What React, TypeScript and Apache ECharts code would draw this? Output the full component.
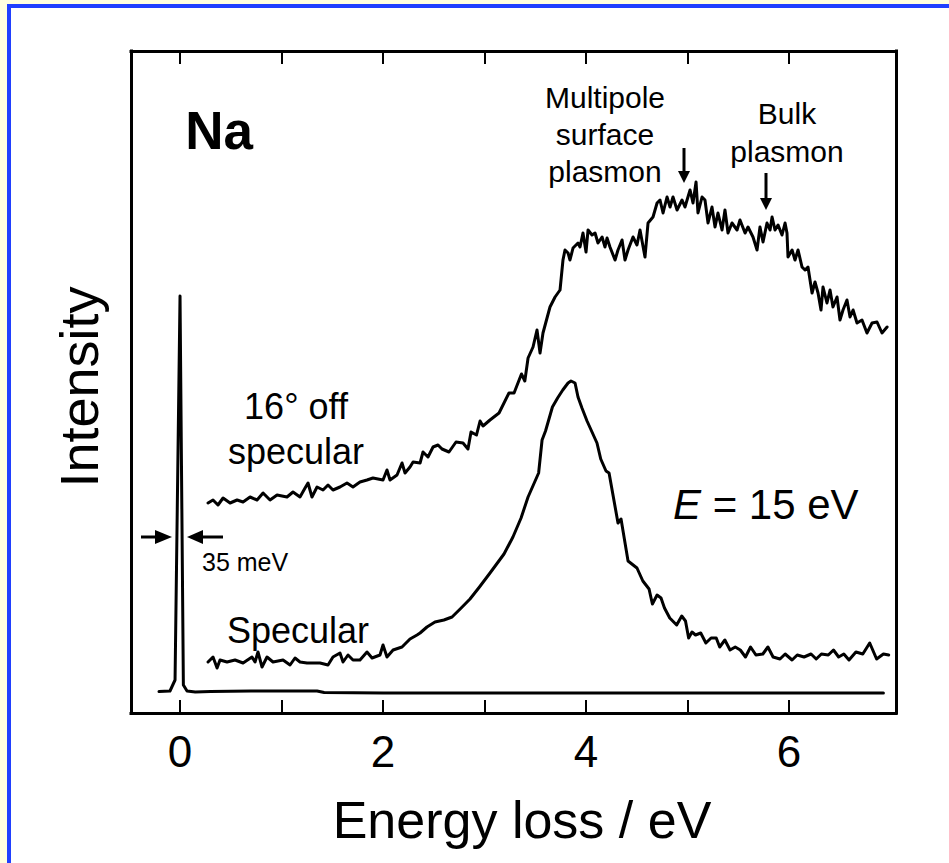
import React, { useEffect, useRef } from "react";
import * as echarts from "echarts";

const FONT = "'Liberation Sans', Arial, Helvetica, sans-serif";

// Axis ticks (energy loss / eV)
const xTicks = [0, 1, 2, 3, 4, 5, 6];
const xTickLabels = [0, 2, 4, 6];

// Elastic peak + baseline (specular, low gain)  [energy loss eV, intensity a.u.]
const elastic: number[][] = [
  [-0.207, 21.4], [-0.099, 22], [-0.049, 33], [0, 417], [0.033, 28], [0.069, 22],
  [0.15, 21], [0.3, 21.5], [0.7, 22], [1.0, 22], [1.35, 22], [1.42, 20.5], [2.0, 20],
  [4.0, 20], [6.93, 20],
];

// Specular spectrum (magnified)
const specular: number[][] = [
  [0.276, 51], [0.325, 56], [0.365, 45], [0.394, 53], [0.463, 51], [0.542, 53], [0.621, 50],
  [0.709, 56], [0.739, 51], [0.768, 61], [0.808, 46], [0.857, 56], [0.916, 51], [1.015, 53],
  [1.084, 48], [1.133, 55], [1.182, 51], [1.251, 50], [1.379, 50], [1.458, 48], [1.507, 56],
  [1.576, 60], [1.606, 51], [1.655, 58], [1.704, 53], [1.773, 53], [1.842, 61], [1.892, 55],
  [1.97, 58], [2.0, 68], [2.039, 56], [2.099, 63], [2.187, 66], [2.266, 74], [2.335, 78],
  [2.365, 80], [2.433, 86], [2.512, 91], [2.6, 93], [2.68, 96], [2.76, 104], [2.857, 114],
  [2.95, 126], [3.054, 140], [3.192, 159], [3.28, 176], [3.36, 195], [3.429, 216],
  [3.533, 240], [3.567, 273], [3.601, 282], [3.669, 306], [3.72, 315], [3.771, 323],
  [3.823, 330], [3.852, 332], [3.892, 330], [3.921, 316], [3.96, 305], [4.01, 292],
  [4.108, 270], [4.145, 254], [4.197, 242], [4.227, 240], [4.315, 190], [4.345, 194],
  [4.414, 152], [4.502, 145], [4.56, 132], [4.621, 124], [4.654, 109], [4.7, 118],
  [4.739, 115], [4.773, 105], [4.825, 95], [4.893, 88], [4.943, 97], [4.98, 92],
  [5.011, 75], [5.044, 81], [5.079, 78], [5.13, 80], [5.181, 70], [5.232, 75], [5.283, 75],
  [5.317, 66], [5.368, 73], [5.419, 63], [5.47, 66], [5.52, 63], [5.571, 56], [5.621, 66],
  [5.674, 58], [5.742, 59], [5.792, 66], [5.843, 56], [5.911, 54], [5.962, 59], [6.03, 53],
  [6.081, 58], [6.148, 56], [6.217, 59], [6.268, 54], [6.319, 59], [6.387, 58], [6.438, 63],
  [6.489, 56], [6.54, 59], [6.591, 53], [6.659, 61], [6.727, 59], [6.795, 70], [6.863, 54],
  [6.93, 59], [6.982, 58],
];

// 16 deg off-specular spectrum
const offSpecular: number[][] = [
  [0.276, 210], [0.325, 213], [0.374, 208], [0.424, 215], [0.493, 210], [0.562, 213],
  [0.621, 211], [0.69, 216], [0.759, 213], [0.818, 220], [0.887, 213], [0.956, 218],
  [1.054, 216], [1.113, 221], [1.182, 216], [1.232, 225], [1.261, 230], [1.3, 216],
  [1.35, 226], [1.409, 223], [1.458, 228], [1.507, 223], [1.576, 226], [1.645, 230],
  [1.704, 226], [1.773, 231], [1.842, 233], [1.901, 235], [2.0, 233], [2.039, 243],
  [2.069, 233], [2.138, 238], [2.187, 250], [2.217, 240], [2.266, 246], [2.296, 251],
  [2.365, 250], [2.394, 261], [2.443, 256], [2.493, 266], [2.542, 268], [2.581, 264],
  [2.65, 261], [2.719, 271], [2.788, 270], [2.837, 264], [2.867, 281], [2.921, 278],
  [2.956, 292], [2.985, 287], [3.054, 293], [3.143, 300], [3.241, 320], [3.291, 320],
  [3.364, 339], [3.397, 332], [3.429, 355], [3.478, 366], [3.517, 383], [3.547, 360],
  [3.576, 380], [3.645, 406], [3.695, 416], [3.744, 423], [3.773, 453], [3.793, 463],
  [3.823, 460], [3.842, 453], [3.872, 465], [3.921, 470], [3.941, 466], [3.97, 480],
  [4.0, 461], [4.02, 483], [4.059, 478], [4.089, 480], [4.118, 470], [4.158, 476],
  [4.187, 466], [4.207, 475], [4.236, 466], [4.286, 453], [4.315, 463], [4.355, 473],
  [4.384, 453], [4.414, 463], [4.463, 476], [4.502, 468], [4.532, 483], [4.581, 456],
  [4.611, 490], [4.66, 496], [4.7, 510], [4.729, 513], [4.759, 500], [4.798, 516],
  [4.828, 506], [4.857, 516], [4.897, 503], [4.946, 513], [4.975, 506], [5.025, 523],
  [5.054, 510], [5.084, 531], [5.103, 500], [5.143, 516], [5.172, 513], [5.202, 490],
  [5.241, 506], [5.271, 486], [5.3, 500], [5.34, 483], [5.369, 503], [5.399, 480],
  [5.438, 490], [5.488, 483], [5.517, 493], [5.567, 480], [5.596, 486], [5.645, 476],
  [5.685, 463], [5.714, 486], [5.744, 471], [5.783, 490], [5.813, 483], [5.833, 496],
  [5.862, 483], [5.892, 488], [5.931, 478], [5.961, 490], [5.98, 480], [5.99, 456],
  [6.03, 463], [6.059, 453], [6.089, 463], [6.128, 446], [6.158, 443], [6.187, 446],
  [6.227, 420], [6.256, 431], [6.286, 420], [6.315, 403], [6.335, 426], [6.374, 410],
  [6.404, 423], [6.433, 406], [6.473, 416], [6.502, 393], [6.532, 403], [6.571, 413],
  [6.601, 396], [6.631, 403], [6.67, 390], [6.719, 393], [6.768, 380], [6.818, 390],
  [6.867, 391], [6.916, 380], [6.966, 386],
];

const X_MIN = -0.483;
const X_MAX = 7.054;
const Y_MIN = 0;
const Y_MAX = 662;

export default function App() {
  const ref = useRef<HTMLDivElement>(null);

  useEffect(() => {
    if (!ref.current) return;
    const chart = echarts.init(ref.current, null, { renderer: "svg", width: 949, height: 863 });

    const axisLine = { show: true, onZero: false, lineStyle: { color: "#000", width: 3, cap: "square" } };
    const lineSeries = (name: string, data: number[][]) => ({
      name,
      type: "line",
      data,
      showSymbol: false,
      symbol: "none",
      clip: true,
      lineStyle: { color: "#000", width: 3, join: "round", cap: "round" },
      emphasis: { disabled: true },
    });

    const arrowDown = (x: number, y0: number, y1: number) => [
      { type: "line", shape: { x1: x, y1: y0, x2: x, y2: y1 - 8 }, style: { stroke: "#000", lineWidth: 3 } },
      { type: "polygon", shape: { points: [[x - 6, y1 - 12], [x + 6, y1 - 12], [x, y1]] }, style: { fill: "#000" } },
    ];

    chart.setOption({
      animation: false,
      backgroundColor: "transparent",
      grid: { left: 131, right: 53, top: 51, bottom: 150, containLabel: false },
      xAxis: [
        {
          type: "value",
          position: "bottom",
          min: X_MIN,
          max: X_MAX,
          axisLine,
          axisTick: { show: true, inside: true, length: 13, lineStyle: { color: "#000", width: 2 }, customValues: xTicks },
          axisLabel: {
            show: true,
            customValues: xTickLabels,
            color: "#000",
            fontSize: 44,
            fontFamily: FONT,
            margin: 16,
          },
          splitLine: { show: false },
        },
        {
          type: "value",
          position: "top",
          min: X_MIN,
          max: X_MAX,
          axisLine,
          axisTick: { show: true, inside: true, length: 13, lineStyle: { color: "#000", width: 2 }, customValues: xTicks },
          axisLabel: { show: false },
          splitLine: { show: false },
        },
      ],
      yAxis: [
        {
          type: "value",
          position: "left",
          min: Y_MIN,
          max: Y_MAX,
          axisLine,
          axisTick: { show: false },
          axisLabel: { show: false },
          splitLine: { show: false },
        },
        {
          type: "value",
          position: "right",
          min: Y_MIN,
          max: Y_MAX,
          axisLine,
          axisTick: { show: false },
          axisLabel: { show: false },
          splitLine: { show: false },
        },
      ],
      series: [
        lineSeries("Elastic", elastic),
        lineSeries("Specular", specular),
        lineSeries("16° off specular", offSpecular),
      ],
      graphic: [
        {
          type: "text",
          x: 219,
          y: 130,
          style: { text: "Na", fill: "#000", font: `bold 53px ${FONT}`, align: "center", verticalAlign: "middle" },
        },
        {
          type: "text",
          x: 605,
          y: 79,
          style: {
            text: "Multipole\nsurface\nplasmon",
            fill: "#000",
            font: `30px ${FONT}`,
            lineHeight: 37,
            align: "center",
            verticalAlign: "top",
          },
        },
        {
          type: "text",
          x: 787,
          y: 94,
          style: {
            text: "Bulk\nplasmon",
            fill: "#000",
            font: `30px ${FONT}`,
            lineHeight: 38,
            align: "center",
            verticalAlign: "top",
          },
        },
        {
          type: "text",
          x: 296,
          y: 384,
          style: {
            text: "16° off\nspecular",
            fill: "#000",
            font: `36px ${FONT}`,
            lineHeight: 45,
            align: "center",
            verticalAlign: "top",
          },
        },
        {
          type: "text",
          x: 298,
          y: 630,
          style: { text: "Specular", fill: "#000", font: `36px ${FONT}`, align: "center", verticalAlign: "middle" },
        },
        {
          type: "text",
          x: 202,
          y: 562,
          style: { text: "35 meV", fill: "#000", font: `25px ${FONT}`, align: "left", verticalAlign: "middle" },
        },
        {
          type: "text",
          x: 673,
          y: 504,
          style: {
            text: "{i|E} = 15 eV",
            fill: "#000",
            font: `42px ${FONT}`,
            align: "left",
            verticalAlign: "middle",
            rich: { i: { fontStyle: "italic", fontSize: 42, fontFamily: FONT, fill: "#000" } },
          },
        },
        {
          type: "text",
          x: 79,
          y: 387,
          rotation: Math.PI / 2,
          style: { text: "Intensity", fill: "#000", font: `54px ${FONT}`, align: "center", verticalAlign: "middle" },
        },
        {
          type: "text",
          x: 522,
          y: 820,
          style: { text: "Energy loss / eV", fill: "#000", font: `52px ${FONT}`, align: "center", verticalAlign: "middle" },
        },
        ...arrowDown(684, 148, 183),
        ...arrowDown(766, 173, 210),
        { type: "line", shape: { x1: 141, y1: 537, x2: 160, y2: 537 }, style: { stroke: "#000", lineWidth: 3 } },
        { type: "polygon", shape: { points: [[155, 530], [155, 544], [172, 537]] }, style: { fill: "#000" } },
        { type: "line", shape: { x1: 198, y1: 537, x2: 223, y2: 537 }, style: { stroke: "#000", lineWidth: 3 } },
        { type: "polygon", shape: { points: [[203, 530], [203, 544], [187, 537]] }, style: { fill: "#000" } },
      ],
    });

    return () => chart.dispose();
  }, []);

  return (
    <div style={{ position: "absolute", left: 0, top: 0, width: 949, height: 863, background: "#FFFFE0", overflow: "hidden" }}>
      <div style={{ position: "absolute", left: 7, top: 4, right: 0, bottom: 0, background: "#2040FF" }} />
      <div style={{ position: "absolute", left: 11, top: 8, right: 0, bottom: 0, background: "#FFFFFF" }} />
      <div ref={ref} style={{ position: "absolute", left: 0, top: 0, width: 949, height: 863 }} />
    </div>
  );
}
